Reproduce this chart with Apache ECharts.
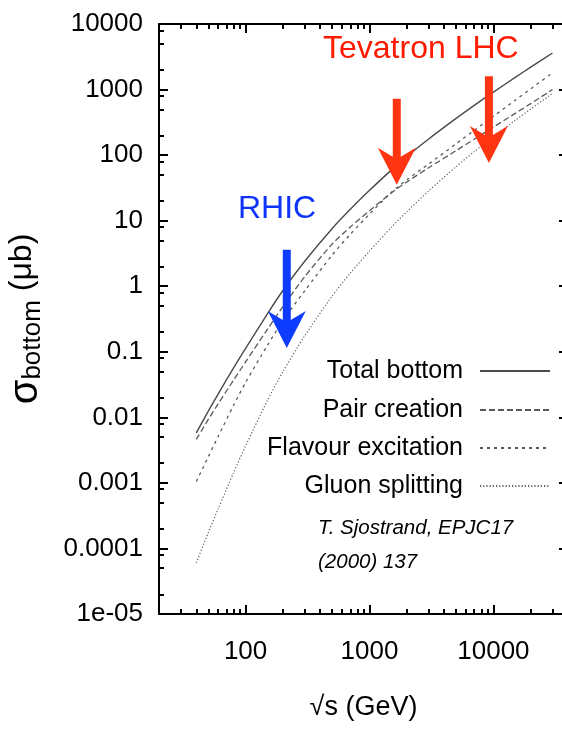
<!DOCTYPE html>
<html>
<head>
<meta charset="utf-8">
<script src="https://cdn.jsdelivr.net/npm/echarts@6/dist/echarts.min.js"></script>
<style>
html,body{margin:0;padding:0;background:#fff;}
#chart{width:562px;height:730px;}
</style>
</head>
<body>
<div id="chart"></div>
<script>
// ---- data ----
const energies = [40, 50, 60, 80, 100, 150, 200, 300, 500, 700, 1000, 1500, 2000, 3000, 5000, 7000, 10000, 15000, 20000, 30000];
const totalBottom = [0.0058, 0.0124, 0.0226, 0.057, 0.113, 0.38, 0.86, 2.4, 7.6, 14.9, 29, 59, 95, 176, 363, 574, 916, 1530, 2200, 3610];
const pairCreation = [0.0046, 0.0093, 0.016, 0.037, 0.07, 0.22, 0.49, 1.4, 4.4, 8.0, 14.2, 26.5, 39, 64, 117, 175, 268, 433, 610, 1000];
const flavourExcitation = [0.00105, 0.0025, 0.0051, 0.0153, 0.034, 0.125, 0.30, 0.85, 3.0, 6.2, 12.6, 27, 42, 73, 149, 238, 391, 687, 1025, 1800];
const gluonSplitting = [6.05e-5, 1.75e-4, 4.0e-4, 1.43e-3, 3.66e-3, 0.0181, 0.0496, 0.175, 0.71, 1.59, 3.43, 7.9, 13.7, 28.4, 66.6, 113, 191, 340, 505, 873];
const seriesNames = ['Total bottom', 'Pair creation', 'Flavour excitation', 'Gluon splitting'];

const xMajorTicks = [100, 1000, 10000];
const xTickLabels = ['100', '1000', '10000'];
const xMinorTicks = [30, 40, 50, 60, 70, 80, 90, 200, 300, 400, 500, 600, 700, 800, 900,
  2000, 3000, 4000, 5000, 6000, 7000, 8000, 9000, 20000, 30000];
const yMajorTicks = [1e-5, 1e-4, 1e-3, 1e-2, 1e-1, 1, 10, 100, 1000, 10000];
const yTickLabels = ['1e-05', '0.0001', '0.001', '0.01', '0.1', '1', '10', '100', '1000', '10000'];
const yMinorTicks = [2e-5, 5e-5, 8e-5, 2e-4, 5e-4, 8e-4, 2e-3, 5e-3, 8e-3, 2e-2, 5e-2, 8e-2,
  0.2, 0.5, 0.8, 2, 5, 8, 20, 50, 80, 200, 500, 800, 2000, 5000, 8000];

// experiment arrows: energy, tip value, tail value
const arrowEnergy = [215, 1660, 9200];
const arrowTip = [0.114, 35.3, 75.7];
const arrowTail = [3.6, 725, 1590];
const arrowColors = ['#0d3cff', '#ff3512', '#ff3512'];

// ---- chart ----
const SANS = '"Liberation Sans", Arial, Helvetica, sans-serif';
const chart = echarts.init(document.getElementById('chart'), null, {renderer: 'canvas'});

function pairs(ys) { return energies.map((x, i) => [x, ys[i]]); }
function labelFor(ticks, labels, v) {
  for (let i = 0; i < ticks.length; i++) {
    if (Math.abs(Math.log10(ticks[i]) - Math.log10(v)) < 1e-6) return labels[i];
  }
  return '';
}

const axisLineStyle = {show: true, lineStyle: {color: '#000', width: 2}};
function xAxisDef(pos, ticks, len, withLabels, withLine) {
  return {
    type: 'log', min: 20, max: 40000, position: pos,
    axisLine: withLine ? axisLineStyle : {show: false},
    axisTick: {show: true, inside: true, length: len, customValues: ticks, lineStyle: {color: '#000', width: 2}},
    axisLabel: withLabels ? {
      show: true, customValues: xMajorTicks, margin: 25,
      formatter: v => labelFor(xMajorTicks, xTickLabels, v),
      fontFamily: SANS, fontSize: 26, color: '#000'
    } : {show: false},
    minorTick: {show: false}, splitLine: {show: false}, minorSplitLine: {show: false}
  };
}
function yAxisDef(pos, ticks, len, withLabels, withLine) {
  return {
    type: 'log', min: 1e-5, max: 1e4, position: pos,
    axisLine: withLine ? axisLineStyle : {show: false},
    axisTick: {show: true, inside: true, length: len, customValues: ticks, lineStyle: {color: '#000', width: 2}},
    axisLabel: withLabels ? {
      show: true, customValues: yMajorTicks, margin: 16,
      formatter: v => labelFor(yMajorTicks, yTickLabels, v),
      fontFamily: SANS, fontSize: 26, color: '#000'
    } : {show: false},
    minorTick: {show: false}, splitLine: {show: false}, minorSplitLine: {show: false}
  };
}

const xAxes = [
  xAxisDef('bottom', xMajorTicks, 9, true, true),
  xAxisDef('bottom', xMinorTicks, 5, false, false),
  xAxisDef('top', xMajorTicks, 9, false, true),
  xAxisDef('top', xMinorTicks, 5, false, false)
];
Object.assign(xAxes[0], {
  name: '\u221As (GeV)', nameLocation: 'middle', nameGap: 80, nameMoveOverlap: false,
  nameTextStyle: {fontFamily: SANS, fontSize: 27, color: '#000'}
});
const yAxes = [
  yAxisDef('left', yMajorTicks, 9, true, true),
  yAxisDef('left', yMinorTicks, 5, false, false),
  yAxisDef('right', yMajorTicks, 9, false, true),
  yAxisDef('right', yMinorTicks, 5, false, false)
];
Object.assign(yAxes[0], {
  name: '{s|\u03C3}{b|bottom}{u| (\u03BCb)}', nameLocation: 'middle', nameGap: 119, nameRotate: 90,
  nameMoveOverlap: false,
  nameTextStyle: {
    color: '#000', fontFamily: SANS,
    rich: {
      s: {fontFamily: SANS, fontSize: 40, lineHeight: 34, verticalAlign: 'top', color: '#000'},
      b: {fontFamily: SANS, fontSize: 26, lineHeight: 24, padding: [14, 0, 0, 0], verticalAlign: 'top', color: '#000'},
      u: {fontFamily: SANS, fontSize: 32, lineHeight: 34, verticalAlign: 'top', color: '#000'}
    }
  }
});

const lineStyles = [
  {color: '#4a4a4a', width: 1.4, type: 'solid'},
  {color: '#5a5a5a', width: 1.3, type: [6, 3]},
  {color: '#5a5a5a', width: 1.3, type: [3, 4]},
  {color: '#606060', width: 1.2, type: [1.2, 2]}
];
const seriesData = [totalBottom, pairCreation, flavourExcitation, gluonSplitting];
const lineSeries = seriesNames.map((n, i) => ({
  name: n, type: 'line', data: pairs(seriesData[i]),
  xAxisIndex: 0, yAxisIndex: 0,
  showSymbol: false, symbol: 'none', smooth: 0.25,
  lineStyle: lineStyles[i], itemStyle: {color: lineStyles[i].color},
  silent: true, z: 3
}));

const legendTops = [356, 395, 433, 471];
const legends = seriesNames.map((n, i) => ({
  data: [n], top: legendTops[i], right: 11, orient: 'horizontal', align: 'right',
  padding: 0, itemWidth: 70, itemHeight: 14, selectedMode: false,
  itemStyle: {color: 'rgba(0,0,0,0)', borderWidth: 0, opacity: 0},
  textStyle: {fontFamily: SANS, fontSize: 25, lineHeight: 30, color: '#000', padding: [0, 12, 0, 0]}
}));

const arrowSeries = {
  type: 'custom', xAxisIndex: 0, yAxisIndex: 0, z: 10, silent: true, clip: false,
  data: arrowEnergy.map((x, i) => [x, arrowTip[i], arrowTail[i]]),
  renderItem: function (params, api) {
    const tip = api.coord([api.value(0), api.value(1)]);
    const tail = api.coord([api.value(0), api.value(2)]);
    const x = tip[0], hw = 4, hh = 19, hl = 37, notch = 9;
    const barbY = tip[1] - hl;
    return {
      type: 'polygon',
      shape: {points: [[x - hw, tail[1]], [x + hw, tail[1]], [x + hw, barbY + notch], [x + hh, barbY],
        [x, tip[1]], [x - hh, barbY], [x - hw, barbY + notch]]},
      style: {fill: arrowColors[params.dataIndex]}
    };
  }
};

chart.setOption({
  animation: false,
  backgroundColor: '#fff',
  grid: {left: 159, top: 24, width: 409, height: 590, containLabel: false, outerBoundsMode: 'none', show: false},
  xAxis: xAxes,
  yAxis: yAxes,
  legend: legends,
  series: lineSeries.concat([arrowSeries]),
  graphic: [
    {type: 'text', left: 238, top: 193, z: 20, style: {text: 'RHIC', fill: '#0d33ff', font: '32px ' + SANS}},
    {type: 'text', left: 323, top: 33, z: 20, style: {text: 'Tevatron LHC', fill: '#ff1a00', font: '32px ' + SANS}},
    {type: 'text', left: 318, top: 511, z: 20, style: {text: 'T. Sjostrand, EPJC17\n(2000) 137', fill: '#000',
      font: 'italic 20.5px ' + SANS, lineHeight: 34}}
  ]
});
</script>
</body>
</html>
